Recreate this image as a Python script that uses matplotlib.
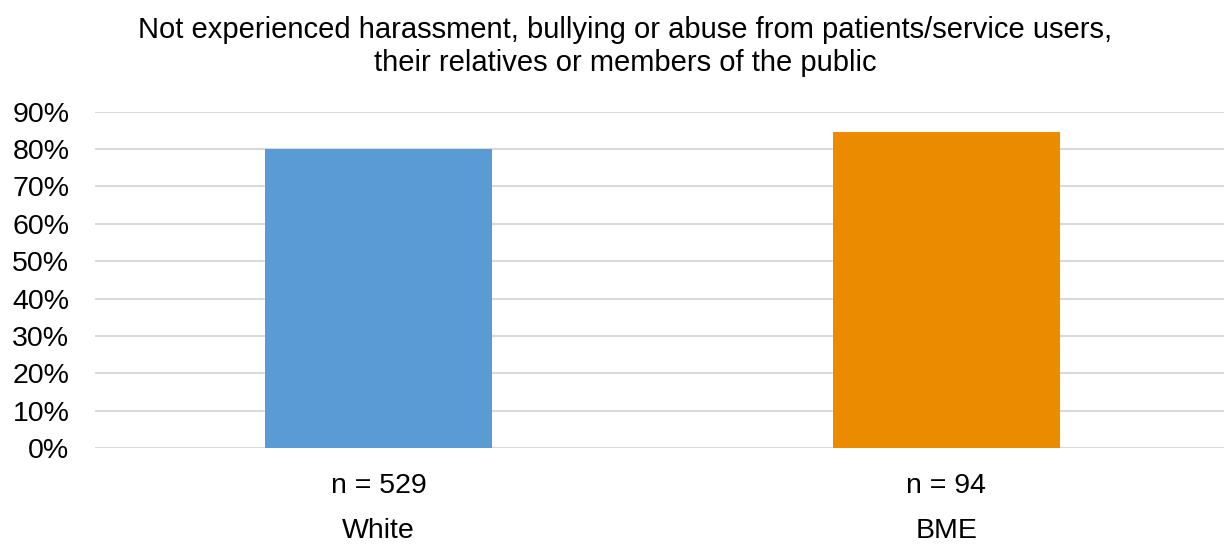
import matplotlib
matplotlib.use('Agg')
import matplotlib.pyplot as plt
import matplotlib.transforms as mtransforms
from matplotlib.ticker import PercentFormatter

groups = ['White', 'BME']
counts = ['n = 529', 'n = 94']
values = [0.80, 0.846]
colors = ['#5B9BD5', '#EA8B00']
title = ('Not experienced harassment, bullying or abuse from patients/service users,\n'
         'their relatives or members of the public')

plt.rcParams['font.family'] = ['Liberation Sans', 'DejaVu Sans']

fig = plt.figure(figsize=(12.24, 5.44), dpi=100)
ax = fig.add_axes([95 / 1224, 1 - 448.3 / 544, 1135 / 1224, (448.3 - 111.5) / 544])

x = range(len(groups))
ax.bar(x, values, width=0.4, color=colors, zorder=3)

ax.set_ylim(0, 0.9)
ax.set_xlim(-0.5, len(groups) - 0.5)
ax.set_yticks([i / 10 for i in range(10)])
ax.yaxis.set_major_formatter(PercentFormatter(1.0, decimals=0))
ax.tick_params(axis='y', length=0, labelsize=20.5, pad=18.5)
ax.tick_params(axis='x', length=0)
ax.set_xticks(list(x))
ax.set_xticklabels([])
ax.grid(axis='y', color='#D9D9D9', linewidth=1.5, zorder=0)
for s in ax.spines.values():
    s.set_visible(False)

trans = mtransforms.blended_transform_factory(ax.transData, fig.transFigure)
for i in x:
    ax.text(i, 1 - 486 / 544, counts[i], transform=trans, ha='center', va='center', fontsize=20.5)
    ax.text(i, 1 - 531 / 544, groups[i], transform=trans, ha='center', va='center', fontsize=20.5)

fig.text(625 / 1224, 1 - 46.5 / 544, title, ha='center', va='center', fontsize=21, linespacing=1.25)

fig.savefig('out.png', dpi=100)
